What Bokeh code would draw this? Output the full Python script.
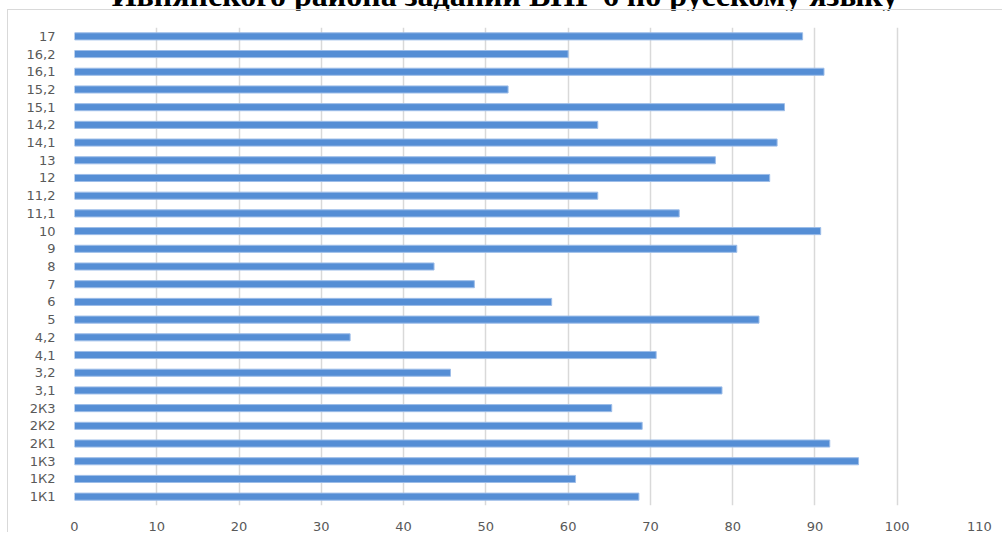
from bokeh.plotting import figure
from bokeh.models import ColumnDataSource, FactorRange, Range1d, FixedTicker, Div
from bokeh.layouts import column
from bokeh.embed import file_html
from bokeh.resources import INLINE

# categories bottom -> top
categories = ["1К1", "1К2", "1К3", "2К1", "2К2", "2К3", "3,1", "3,2", "4,1", "4,2",
              "5", "6", "7", "8", "9", "10", "11,1", "11,2", "12", "13",
              "14,1", "14,2", "15,1", "15,2", "16,1", "16,2", "17"]
values = [68.6, 60.9, 95.3, 91.8, 69.0, 65.3, 78.7, 45.7, 70.7, 33.5,
          83.2, 58.0, 48.6, 43.7, 80.5, 90.7, 73.5, 63.6, 84.5, 77.9,
          85.4, 63.6, 86.3, 52.7, 91.1, 60.0, 88.5]
x_ticks = [0, 10, 20, 30, 40, 50, 60, 70, 80, 90, 100, 110]
title_text = "Ивнянского района заданий ВПР 6 по русскому языку"

src = ColumnDataSource(dict(cat=categories, val=values))

title = Div(
    text=('<div style="font-family:\'Liberation Serif\';font-weight:bold;font-size:32px;'
          'line-height:28px;text-align:center;white-space:nowrap;color:black;'
          'box-sizing:border-box;padding-left:7px;width:1003px">' + title_text + '</div>'),
    width=1003, height=28, margin=(-19, 0, 0, 0))

W, H = 995, 523
p = figure(width=W, height=H, output_backend="svg", toolbar_location=None,
           y_range=FactorRange(factors=categories), x_range=Range1d(0, 110),
           min_border_left=66, min_border_right=24, min_border_top=17, min_border_bottom=28,
           margin=(0, 0, 0, 7))
p.styles = {"border-top": "1px solid #D9D9D9", "border-left": "1px solid #D9D9D9"}
p.outline_line_color = None
p.background_fill_color = "white"
p.border_fill_color = "white"

p.hbar(y="cat", right="val", left=0, height=0.4, source=src,
       fill_color="#558ED5", line_color="#9DBDE8", line_width=1)

p.xaxis.ticker = FixedTicker(ticks=x_ticks)
for ax in (p.xaxis, p.yaxis):
    ax.axis_line_color = None
    ax.major_tick_line_color = None
    ax.minor_tick_line_color = None
    ax.major_label_text_font = "DejaVu Sans"
    ax.major_label_text_font_size = "13px"
    ax.major_label_text_color = "#595959"
p.xaxis.major_label_standoff = 10
p.yaxis.major_label_standoff = 13

p.xgrid.grid_line_color = "#D9D9D9"
p.xgrid.grid_line_width = 1.5
p.ygrid.grid_line_color = None

layout = column(title, p, spacing=0)

open("out.html", "w").write(file_html(layout, INLINE))
